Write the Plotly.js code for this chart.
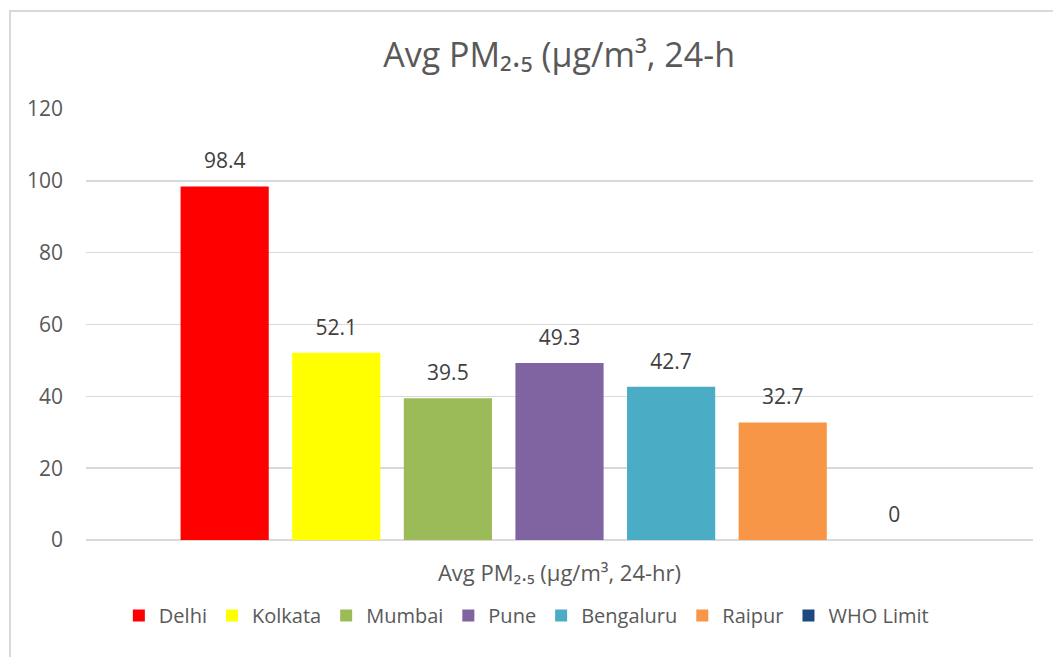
<!DOCTYPE html>
<html>
<head>
<meta charset="utf-8">
<script src="https://cdn.plot.ly/plotly-3.0.1.min.js"></script>
<style>
  html, body { margin: 0; padding: 0; background: #ffffff; }
  #wrap { position: relative; width: 1053px; height: 657px; overflow: hidden; }
  #chart { position: absolute; left: 0; top: 0; width: 1053px; height: 657px; }
  #frame { position: absolute; left: 9px; top: 10px; width: 1100px; height: 700px;
           border-left: 2px solid #d9d9d9; border-top: 2px solid #d9d9d9; pointer-events: none; }
</style>
</head>
<body>
<div id="wrap">
  <div id="chart"></div>
  <div id="frame"></div>
</div>
<script>
// Average 24-hour PM2.5 by city
const category = ["Avg PM₂.₅ (µg/m³, 24-hr)"];
const cities = ["Delhi", "Kolkata", "Mumbai", "Pune", "Bengaluru", "Raipur", "WHO Limit"];
const pm25 = [98.4, 52.1, 39.5, 49.3, 42.7, 32.7, 0];
const colors = ["#ff0000", "#ffff00", "#9bbb59", "#8064a2", "#4bacc6", "#f79646", "#1f497d"];
const yTicks = [0, 20, 40, 60, 80, 100, 120];

const FONT = "'Open Sans', Lato, sans-serif";
const GREY = "#595959";
const GAP = 0.175;

// one bar per city, each in its own offset group
const bars = cities.map((name, i) => ({
  type: "bar",
  name: name,
  x: category,
  y: [pm25[i]],
  offsetgroup: "g" + i,
  marker: { color: colors[i] },
  hoverinfo: "name+y"
}));

// value labels riding above each bar, grouped the same way as the bars
const labels = cities.map((name, i) => ({
  type: "scatter",
  mode: "markers+text",
  name: name + " label",
  x: category,
  y: [pm25[i]],
  offsetgroup: "g" + i,
  text: [String(pm25[i])],
  textposition: "top center",
  textfont: { family: FONT, size: 21, color: "#404040" },
  marker: { size: 19, color: "rgba(0,0,0,0)" },
  cliponaxis: false,
  showlegend: false,
  hoverinfo: "skip"
}));

const layout = {
  width: 1053,
  height: 657,
  paper_bgcolor: "#ffffff",
  plot_bgcolor: "#ffffff",
  margin: { l: 86, r: 20, t: 109, b: 117 },
  title: {
    text: "Avg PM₂.₅ (µg/m³, 24-h",
    font: { family: FONT, size: 34, color: GREY },
    x: 0.531, xanchor: "center",
    y: 0.916, yanchor: "middle"
  },
  barmode: "group",
  bargap: GAP,
  bargroupgap: 0.21,
  scattermode: "group",
  scattergap: GAP,
  xaxis: {
    type: "category",
    showgrid: false,
    showline: false,
    zeroline: false,
    ticks: "",
    tickfont: { family: FONT, size: 22, color: GREY },
    ticklabelstandoff: 18
  },
  yaxis: {
    range: [0, 120],
    tickvals: yTicks,
    ticktext: yTicks.map(String),
    showgrid: true,
    gridcolor: "#d9d9d9",
    gridwidth: 1.5,
    zeroline: true,
    zerolinecolor: "#d9d9d9",
    zerolinewidth: 1.5,
    showline: false,
    ticks: "",
    ticklabelstandoff: 22,
    tickfont: { family: FONT, size: 21, color: GREY }
  },
  legend: {
    orientation: "h",
    x: 0.465, xanchor: "center",
    y: -0.175, yanchor: "middle",
    font: { family: FONT, size: 20, color: GREY },
    traceorder: "normal",
    itemwidth: 30
  },
  showlegend: true
};

Plotly.newPlot("chart", bars.concat(labels), layout, { displayModeBar: false, staticPlot: true });
</script>
</body>
</html>
